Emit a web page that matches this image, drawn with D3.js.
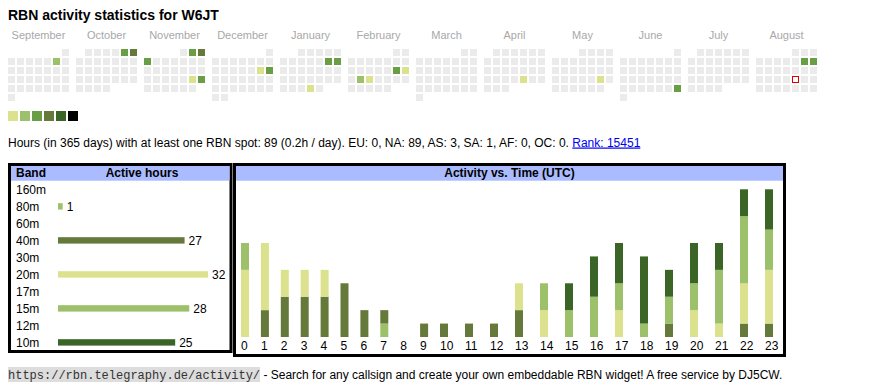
<!DOCTYPE html>
<html>
<head>
<meta charset="utf-8">
<script src="https://cdn.jsdelivr.net/npm/d3@7"></script>
<style>
  body { margin: 0; background: #fff; }
  svg { display: block; font-family: "Liberation Sans", Arial, sans-serif; }
</style>
</head>
<body>
<svg id="chart" width="870" height="390"></svg>
<script>
// ---------------- data ----------------
const callsign = "W6JT";
const monthNames = ["September","October","November","December","January","February","March","April","May","June","July","August"];
const firstMonth = "2024-09-01";
const today = "2025-08-22";
// active days (date, activity level 1..6)
const activeDates = ["2024-09-07","2024-10-05","2024-10-06","2024-11-02","2024-11-03","2024-11-04","2024-11-23","2024-11-24","2024-12-14","2024-12-15","2025-01-11","2025-01-12","2025-01-30","2025-02-15","2025-02-16","2025-02-18","2025-02-19","2025-04-25","2025-05-24","2025-06-29","2025-08-09","2025-08-10"];
const activeLevels = [2,3,4,3,4,3,1,3,1,3,3,3,1,3,1,2,1,1,1,3,3,3];
const levels = [1,2,3,4,5,6];
const levelColors = ["#dbe18c","#9dc16b","#699e47","#65793b","#3b6427","#000000"];

const bands = ["160m","80m","60m","40m","30m","20m","17m","15m","12m","10m"];
const bandHours = [0,1,0,27,0,32,0,28,0,25];
const bandColors = ["#9dc16b","#9dc16b","#9dc16b","#65793b","#9dc16b","#dbe18c","#9dc16b","#9dc16b","#9dc16b","#3b6427"];

const hourLabels = ["0","1","2","3","4","5","6","7","8","9","10","11","12","13","14","15","16","17","18","19","20","21","22","23"];
const h80 = [0,0,0,0,0,0,0,1,0,0,0,0,0,0,0,0,0,0,0,0,0,0,0,0];
const h40 = [0,2,3,3,3,4,2,1,0,1,1,1,1,2,0,0,0,0,0,1,0,0,1,1];
const h20 = [5,5,2,2,2,0,0,0,0,0,0,0,0,2,2,0,0,2,0,0,2,1,3,4];
const h15 = [2,0,0,0,0,0,0,0,0,0,0,0,0,0,2,2,3,2,1,2,2,4,5,3];
const h10 = [0,0,0,0,0,0,0,0,0,0,0,0,0,0,0,2,3,3,5,2,3,2,2,3];
const stackKeys = ["80m","40m","20m","15m","10m"];

const statsText = "Hours (in 365 days) with at least one RBN spot: 89 (0.2h / day). EU: 0, NA: 89, AS: 3, SA: 1, AF: 0, OC: 0. ";
const rankText = "Rank: 15451";
const footerUrl = "https://rbn.telegraphy.de/activity/";
const footerText = " - Search for any callsign and create your own embeddable RBN widget! A free service by DJ5CW.";

// ---------------- drawing ----------------
const svg = d3.select("#chart");
const parse = d3.timeParse("%Y-%m-%d");

svg.append("text").attr("x", 8).attr("y", 20)
  .attr("font-size", 14).attr("font-weight", "bold").attr("fill", "#000")
  .text("RBN activity statistics for " + callsign);

// calendar
const start = parse(firstMonth);
const months = d3.timeMonths(start, d3.timeMonth.offset(start, 12));
const monthX = d3.scaleLinear().domain([0, 1]).range([8, 76]);
const cell = 7, pitch = 9;
const colorScale = d3.scaleOrdinal().domain(levels).range(levelColors);
const levelByDay = new Map(activeDates.map((d, i) => [d, activeLevels[i]]));
const fmt = d3.timeFormat("%Y-%m-%d");
const todayStr = today;

const cal = svg.append("g");
months.forEach((m, i) => {
  const x0 = monthX(i);
  cal.append("text").attr("x", x0 + (7 * pitch - 2) / 2).attr("y", 39)
    .attr("text-anchor", "middle").attr("font-size", 11).attr("fill", "#a8a8a8")
    .text(monthNames[i]);
  const days = d3.timeDays(m, d3.timeMonth.offset(m, 1));
  cal.selectAll(null).data(days).join("rect")
    .attr("x", d => x0 + ((d.getDay() + 6) % 7) * pitch)
    .attr("y", d => 49 + d3.timeMonday.count(m, d) * pitch)
    .attr("width", cell).attr("height", cell)
    .attr("fill", d => {
      const k = fmt(d);
      if (k === todayStr) return "#ffffff";
      return levelByDay.has(k) ? colorScale(levelByDay.get(k)) : "#ebebeb";
    })
    .attr("stroke", d => fmt(d) === todayStr ? "#e00000" : "none")
    .attr("stroke-width", 1);
});
// fix today's outline to sit inside the cell
cal.selectAll("rect").filter(function() { return d3.select(this).attr("stroke") !== "none"; })
  .attr("x", function() { return +d3.select(this).attr("x") + 0.5; })
  .attr("y", function() { return +d3.select(this).attr("y") + 0.5; })
  .attr("width", cell - 1).attr("height", cell - 1);

// legend
svg.append("g").selectAll("rect").data(levels).join("rect")
  .attr("x", (d, i) => 8 + i * 12).attr("y", 111)
  .attr("width", 10).attr("height", 10)
  .attr("fill", d => colorScale(d));

// stats line
const stats = svg.append("text").attr("x", 8).attr("y", 146.5).attr("font-size", 12).attr("fill", "#000");
stats.append("tspan").text(statsText);
stats.append("tspan").attr("fill", "#0000ee").attr("text-decoration", "underline").text(rankText);

// ---------- band table ----------
const tbl = svg.append("g");
tbl.append("rect").attr("x", 9.5).attr("y", 164.5).attr("width", 221.5).attr("height", 187)
  .attr("fill", "#fff").attr("stroke", "#000").attr("stroke-width", 3);
tbl.append("rect").attr("x", 11).attr("y", 166).attr("width", 218.5).attr("height", 14.7).attr("fill", "#aabbff");
tbl.append("text").attr("x", 16).attr("y", 177).attr("font-size", 12).attr("font-weight", "bold").text("Band");
tbl.append("text").attr("x", 142).attr("y", 177).attr("text-anchor", "middle").attr("font-size", 12).attr("font-weight", "bold").text("Active hours");

const bandY = d3.scalePoint().domain(bands).range([193.5, 346.5]);
const bandX = d3.scaleLinear().domain([0, 32]).range([58, 208]);
tbl.selectAll("text.band").data(bands).join("text").attr("class", "band")
  .attr("x", 16).attr("y", d => bandY(d)).attr("font-size", 12).text(d => d);
const bandRows = bands.map((b, i) => ({ band: b, hours: bandHours[i], color: bandColors[i] })).filter(d => d.hours > 0);
tbl.selectAll("rect.bar").data(bandRows).join("rect").attr("class", "bar")
  .attr("x", bandX(0)).attr("y", d => bandY(d.band) - 7.3)
  .attr("width", d => bandX(d.hours) - bandX(0)).attr("height", 6.4)
  .attr("fill", d => d.color);
tbl.selectAll("text.val").data(bandRows).join("text").attr("class", "val")
  .attr("x", d => bandX(d.hours) + 4).attr("y", d => bandY(d.band))
  .attr("font-size", 12).text(d => d.hours);

// ---------- activity vs time ----------
const act = svg.append("g");
act.append("rect").attr("x", 234.5).attr("y", 164.5).attr("width", 550).attr("height", 191)
  .attr("fill", "#fff").attr("stroke", "#000").attr("stroke-width", 3);
act.append("rect").attr("x", 236).attr("y", 166).attr("width", 547).attr("height", 14.7).attr("fill", "#aabbff");
act.append("text").attr("x", 509.5).attr("y", 177).attr("text-anchor", "middle")
  .attr("font-size", 12).attr("font-weight", "bold").text("Activity vs. Time (UTC)");

// column widths of the hour table depend on label width
const colW = hourLabels.map(l => l.length === 1 ? 19.9 : 25);
const lefts = [241, ...d3.cumsum(colW).map(v => 241 + v)].slice(0, 24);
const hx = d3.scaleOrdinal().domain(hourLabels).range(lefts);
const hy = d3.scaleLinear().domain([0, 11]).range([337, 189.3]);

const table = hourLabels.map((h, i) => ({ hour: h, "80m": h80[i], "40m": h40[i], "20m": h20[i], "15m": h15[i], "10m": h10[i] }));
const series = d3.stack().keys(stackKeys)(table);
const keyColor = d3.scaleOrdinal().domain(bands).range(bandColors);

act.selectAll("g.series").data(series).join("g").attr("class", "series")
  .attr("fill", d => keyColor(d.key))
  .selectAll("rect").data(d => d.filter(p => p[1] > p[0])).join("rect")
  .attr("x", d => hx(d.data.hour)).attr("width", 8)
  .attr("y", d => hy(d[1])).attr("height", d => hy(d[0]) - hy(d[1]));

act.selectAll("text.hr").data(hourLabels).join("text").attr("class", "hr")
  .attr("x", d => hx(d)).attr("y", 349.5).attr("font-size", 12).text(d => d);

// ---------- footer ----------
const foot = svg.append("g");
const urlText = foot.append("text").attr("x", 8).attr("y", 378.5)
  .attr("font-family", "'Liberation Mono', 'DejaVu Sans Mono', monospace").attr("font-size", 12)
  .attr("fill", "#333").text(footerUrl);
const urlW = urlText.node().getComputedTextLength();
foot.insert("rect", "text").attr("x", 8).attr("y", 367).attr("width", urlW).attr("height", 15).attr("fill", "#dddddd");
foot.append("text").attr("x", 8 + urlW).attr("y", 378.5).attr("font-size", 12).attr("fill", "#000")
  .attr("xml:space", "preserve").style("white-space", "pre").text(footerText);
</script>
</body>
</html>
